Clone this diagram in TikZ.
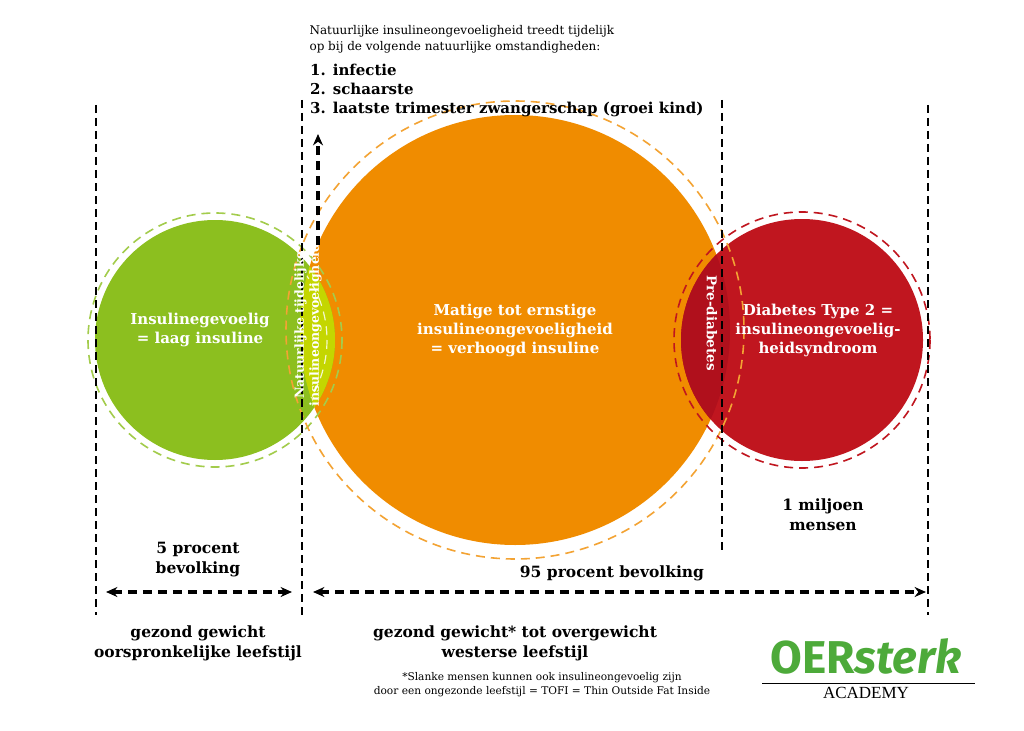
\documentclass[tikz,border=0pt]{standalone}
\usepackage{fontspec}
\setmainfont{DejaVu Serif}
\newfontfamily\logofont{Fira Sans}
\newfontfamily\acadfont{Liberation Serif}
\usepackage{xcolor}
\usetikzlibrary{arrows.meta, positioning}
\definecolor{okgreen}{HTML}{8CBF1F}
\definecolor{okorange}{HTML}{F08C00}
\definecolor{okred}{HTML}{C0161F}
\definecolor{lensgreen}{HTML}{C4D600}
\definecolor{lensred}{HTML}{B0101C}
\definecolor{logogreen}{HTML}{4DAA3A}

\begin{document}
\begin{tikzpicture}[
    x=1pt, y=-1pt,
    lbl/.style={font=\bfseries\fontsize{15}{19}\selectfont, align=center, text=white},
    blk/.style={font=\bfseries\fontsize{15.5}{20}\selectfont, align=center},
    small/.style={font=\fontsize{12}{16}\selectfont, anchor=north west},
    item/.style={font=\bfseries\fontsize{15}{18}\selectfont, anchor=north west, inner sep=0pt},
    ring/.style={line width=1.6pt, dash pattern=on 9pt off 6pt},
    sep/.style={line width=2.5pt, dash pattern=on 8pt off 5pt, black},
    span/.style={{Stealth[length=4mm, width=3.5mm]}-{Stealth[length=4mm, width=3.5mm]}, line width=3.2pt, dash pattern=on 9pt off 6pt},
]
\useasboundingbox (0,0) rectangle (1024,730);
\fill[white] (0,0) rectangle (1024,730);

% circles
\fill[okorange] (515,330) circle (215);
\fill[okgreen] (215,340) circle (120);
\fill[okred] (802,340) circle (121);
\begin{scope}
  \clip (515,330) circle (215);
  \fill[lensgreen] (215,340) circle (120);
  \fill[lensred] (802,340) circle (121);
  \draw[ring, white!80!lensgreen, line width=1.2pt] (215,340) circle (112);
\end{scope}
\draw[ring, okgreen!80] (215,340) circle (127);
\draw[ring, okorange!80] (515,330) circle (229);
\draw[ring, okred] (802,340) circle (128);

% separators
\draw[sep] (96,105) -- (96,615);
\draw[sep] (302,100) -- (302,615);
\draw[sep] (722,100) -- (722,550);
\draw[sep] (928,105) -- (928,615);

% circle labels
\node[lbl] (gevoelig) at (200,330) {Insulinegevoelig\\= laag insuline};
\node[lbl] (matig) at (515,330) {Matige tot ernstige\\insulineongevoeligheid\\= verhoogd insuline};
\node[lbl] (diabetes) at (818,330) {Diabetes Type 2 =\\insulineongevoelig-\\heidsyndroom};
\node[lbl, rotate=90, font=\bfseries\fontsize{12.5}{15}\selectfont] (tijdelijk) at (308,325) {Natuurlijke tijdelijke\\insulineongevoeligheid};
\node[lbl, rotate=-90, font=\bfseries\fontsize{13.5}{16}\selectfont] (pre) at (712,323) {Pre-diabetes};

% top note
\node[small, align=left] (note) at (306,22) {Natuurlijke insulineongevoeligheid treedt tijdelijk\\op bij de volgende natuurlijke omstandigheden:};
\node[item] (een) at (310,64) {1. infectie};
\node[item, below=7pt of een.south west, anchor=north west] (twee) {2. schaarste};
\node[item, below=7pt of twee.south west, anchor=north west] (drie) {3. laatste trimester zwangerschap (groei kind)};
\coordinate (upfoot) at (318,245);
\coordinate (uptip) at (318,134);
\draw[-{Stealth[length=4mm, width=3.5mm]}, line width=3.2pt, dash pattern=on 9pt off 6pt] (upfoot) -- (uptip);

% groups
\node[blk] (vijf) at (198,560) {5 procent\\bevolking};
\node[blk] (miljoen) at (823,515) {1 miljoen\\mensen};
\node[blk] (negentig) at (612,573) {95 procent bevolking};
\coordinate (la) at (106,592);
\coordinate (lb) at (292,592);
\coordinate (ra) at (313,592);
\coordinate (rb) at (926,592);
\draw[span] (la) -- (lb);
\draw[span] (ra) -- (rb);

% bottom
\node[blk] (gezond) at (198,643) {gezond gewicht\\oorspronkelijke leefstijl};
\node[blk] (over) at (515,643) {gezond gewicht* tot overgewicht\\westerse leefstijl};
\node[font=\fontsize{10.6}{14}\selectfont, align=center] (tofi) at (542,685) {*Slanke mensen kunnen ook insulineongevoelig zijn\\door een ongezonde leefstijl = TOFI = Thin Outside Fat Inside};

% logo
\node[text=logogreen, font=\logofont\bfseries\fontsize{46}{48}\selectfont] (logo) at (866,656) {OER\textit{sterk}};
\draw[line width=0.8pt] (762,683) -- (975,683);
\node[font=\acadfont\fontsize{17}{18}\selectfont] (academy) at (866,693) {ACADEMY};
\end{tikzpicture}
\end{document}
